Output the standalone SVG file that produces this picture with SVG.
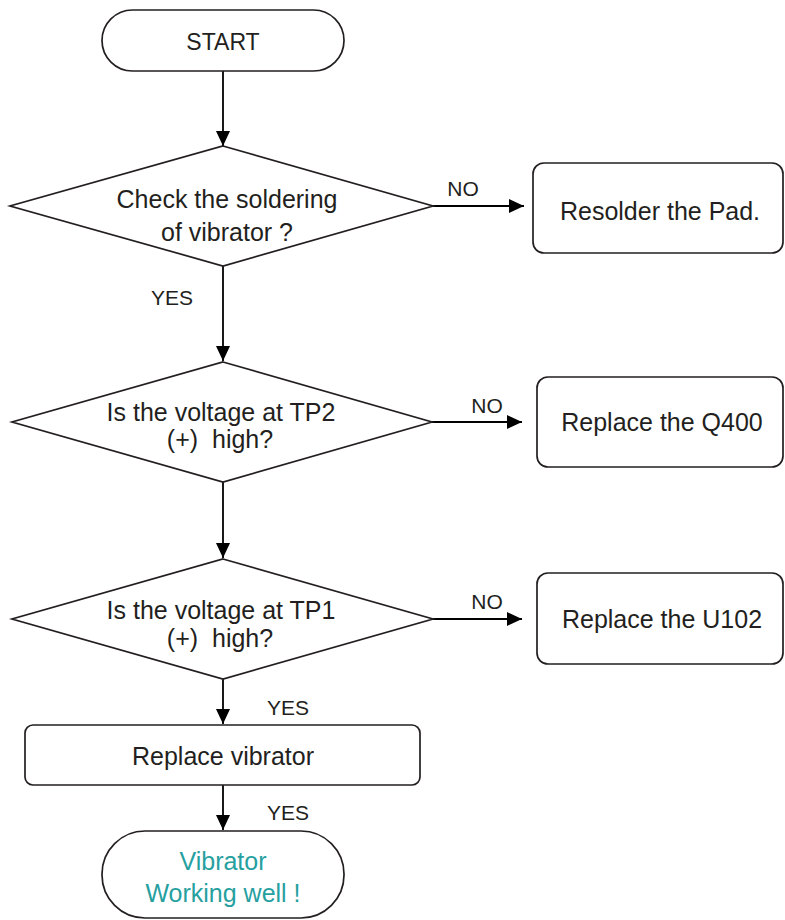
<svg xmlns="http://www.w3.org/2000/svg" width="785" height="920" viewBox="0 0 785 920">
<defs>
<style>
.shape{fill:#fff;stroke:#231f20;stroke-width:1.7}
.conn{fill:none;stroke:#000;stroke-width:1.8}
.t{font-family:"Liberation Sans",Arial,sans-serif;font-size:25px;fill:#231f20;text-anchor:middle;white-space:pre}
.lbl{font-family:"Liberation Sans",Arial,sans-serif;font-size:21px;fill:#231f20;text-anchor:middle}
.teal{fill:#26a09f}
</style>
<marker id="ah" viewBox="0 0 15 14" refX="15" refY="7" markerWidth="15" markerHeight="14" markerUnits="userSpaceOnUse" orient="auto">
<path d="M0,0 L15,7 L0,14 z" fill="#000"/>
</marker>
</defs>
<rect width="785" height="920" fill="#fff"/>
<g id="connectors">
<line class="conn" x1="223" y1="71" x2="223" y2="146" marker-end="url(#ah)"/>
<line class="conn" x1="433" y1="206" x2="524" y2="206" marker-end="url(#ah)"/>
<line class="conn" x1="223" y1="266" x2="223" y2="361" marker-end="url(#ah)"/>
<line class="conn" x1="432" y1="422" x2="522" y2="422" marker-end="url(#ah)"/>
<line class="conn" x1="223" y1="482" x2="223" y2="558" marker-end="url(#ah)"/>
<line class="conn" x1="433" y1="619" x2="522" y2="619" marker-end="url(#ah)"/>
<line class="conn" x1="223" y1="679" x2="223" y2="724" marker-end="url(#ah)"/>
<line class="conn" x1="223" y1="785" x2="223" y2="830" marker-end="url(#ah)"/>
<text class="lbl" x="463" y="196">NO</text>
<text class="lbl" x="172" y="305">YES</text>
<text class="lbl" x="487" y="413">NO</text>
<text class="lbl" x="487" y="609">NO</text>
<text class="lbl" x="288" y="715">YES</text>
<text class="lbl" x="288" y="820">YES</text>
</g>
<g id="start">
<rect class="shape" x="102" y="10" width="242" height="61" rx="30.5" ry="30.5"/>
<text class="t" x="223" y="50" style="font-size:23px">START</text>
</g>
<g id="decision1">
<polygon class="shape" points="223,146 433,206 223,266 10,206"/>
<text class="t" x="227" y="208">Check the soldering</text>
<text class="t" x="227" y="241">of vibrator ?</text>
</g>
<g id="resolder">
<rect class="shape" x="533" y="163" width="250" height="90" rx="11"/>
<text class="t" x="660" y="220">Resolder the Pad.</text>
</g>
<g id="decision2">
<polygon class="shape" points="223,362 432,422 223,482 12,422"/>
<text class="t" x="221" y="421">Is the voltage at TP2</text>
<text class="t" x="220" y="448">(+)  high?</text>
</g>
<g id="q400">
<rect class="shape" x="537" y="377" width="246" height="90" rx="11"/>
<text class="t" x="662" y="431">Replace the Q400</text>
</g>
<g id="decision3">
<polygon class="shape" points="223,559 433,619 223,679 12,619"/>
<text class="t" x="221" y="619">Is the voltage at TP1</text>
<text class="t" x="220" y="647">(+)  high?</text>
</g>
<g id="u102">
<rect class="shape" x="537" y="573" width="246" height="91" rx="11"/>
<text class="t" x="662" y="628">Replace the U102</text>
</g>
<g id="replace-vibrator">
<rect class="shape" x="25" y="725" width="395" height="60" rx="8"/>
<text class="t" x="223" y="765">Replace vibrator</text>
</g>
<g id="end">
<rect class="shape" x="102" y="831" width="242" height="87" rx="43" ry="43"/>
<text class="t teal" x="223" y="870">Vibrator</text>
<text class="t teal" x="223" y="902">Working well !</text>
</g>
</svg>
